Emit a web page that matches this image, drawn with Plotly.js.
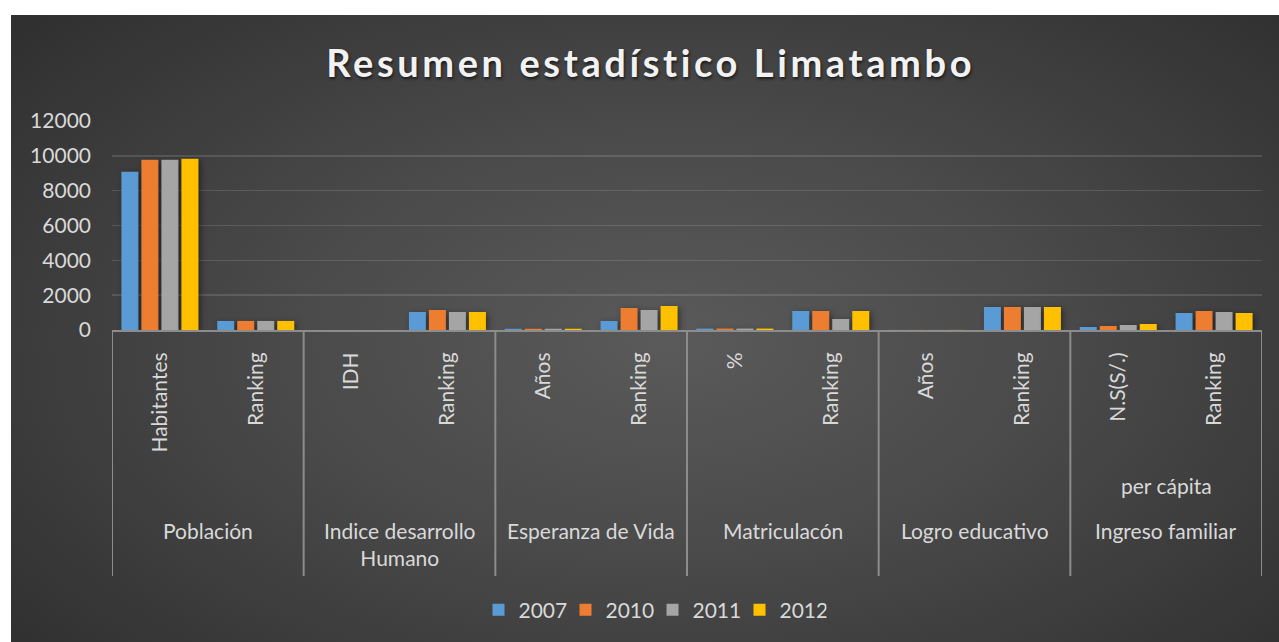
<!DOCTYPE html>
<html>
<head>
<meta charset="utf-8">
<script src="https://cdn.plot.ly/plotly-3.0.1.min.js"></script>
<style>
  html, body { margin: 0; padding: 0; background: #ffffff; width: 1279px; height: 642px; overflow: hidden; }
  #chart {
    position: absolute; left: 11px; top: 15px; width: 1268px; height: 627px;
    background: radial-gradient(ellipse 75% 85% at 52% 52%, #5a5a5a 0%, #4a4a4a 40%, #2b2b2b 100%);
  }
  #chart .gtitle { letter-spacing: 3.6px; text-shadow: 1px 2px 3px rgba(0,0,0,0.6); }
  #chart .trace.bars .point path { filter: drop-shadow(2px 2px 3px rgba(0,0,0,0.45)); }
</style>
</head>
<body>
<div id="chart"></div>
<script>
// ---- data ----
const groups = ["Población", "Indice desarrollo<br>Humano", "Esperanza de Vida", "Matriculacón", "Logro educativo", "Ingreso familiar"];
const groupExtra = ["", "", "", "", "", "per cápita"];
const subLabels = ["Habitantes", "Ranking", "IDH", "Ranking", "Años", "Ranking", "%", "Ranking", "Años", "Ranking", "N.S(S/.)", "Ranking"];
const years = ["2007", "2010", "2011", "2012"];
const v2007 = [9080, 520, 0.3, 1035, 70, 517, 80, 1092, 6, 1322, 172, 977];
const v2010 = [9770, 520, 0.3, 1150, 72, 1264, 82, 1092, 6, 1322, 230, 1092];
const v2011 = [9770, 520, 0.3, 1035, 72, 1150, 82, 632, 6, 1322, 287, 1035];
const v2012 = [9830, 520, 0.3, 1035, 72, 1380, 82, 1092, 6, 1322, 345, 977];
const yTicks = [0, 2000, 4000, 6000, 8000, 10000, 12000];

const seriesValues = [v2007, v2010, v2011, v2012];
const colors = ["#5b9bd5", "#ed7d31", "#a5a5a5", "#ffc000"];
const xIdx = subLabels.map((_, i) => i);

const FONT = "Lato, 'Noto Sans', sans-serif";
const TXT = "#d9d9d9";

const traces = years.map((yr, k) => ({
  type: "bar",
  name: yr,
  x: xIdx,
  y: seriesValues[k],
  marker: { color: colors[k] },
  hoverinfo: "skip"
}));

const shapes = [];
for (let g = 0; g <= groups.length; g++) {
  shapes.push({
    type: "line", xref: "x", yref: "paper",
    x0: 2 * g - 0.5, x1: 2 * g - 0.5, y0: 0, y1: -1.177,
    line: { color: "#8c8c8c", width: 2 }
  });
}

const annotations = [];
groups.forEach((g, i) => {
  annotations.push({
    xref: "x", yref: "paper", x: 2 * i + 0.5, y: 0,
    xanchor: "center", yanchor: "top", yshift: -186,
    text: g, showarrow: false,
    font: { family: FONT, size: 21, color: TXT }
  });
  if (groupExtra[i]) {
    annotations.push({
      xref: "x", yref: "paper", x: 2 * i + 0.5, y: 0,
      xanchor: "center", yanchor: "top", yshift: -141,
      text: groupExtra[i], showarrow: false,
      font: { family: FONT, size: 21, color: TXT }
    });
  }
});

const layout = {
  width: 1268, height: 627,
  paper_bgcolor: "rgba(0,0,0,0)",
  plot_bgcolor: "rgba(0,0,0,0)",
  margin: { l: 101, r: 17, t: 106, b: 312 },
  title: {
    text: "Resumen estadístico Limatambo",
    font: { family: FONT, size: 38, color: "#f2f2f2", weight: 700 },
    xref: "container", x: 0.5045, xanchor: "center",
    yref: "container", y: 0.922, yanchor: "middle"
  },
  barmode: "group",
  bargap: 0.165,
  bargroupgap: 0.15,
  xaxis: {
    range: [-0.5, 11.5],
    tickmode: "array", tickvals: xIdx, ticktext: subLabels,
    tickangle: -90, ticks: "",
    ticklabelstandoff: 12,
    tickfont: { family: FONT, size: 21, color: TXT },
    showgrid: false, zeroline: false,
    showline: true, linecolor: "#8c8c8c", linewidth: 2,
    fixedrange: true
  },
  yaxis: {
    range: [0, 12000],
    tickmode: "array", tickvals: yTicks, ticktext: yTicks.map(String),
    ticks: "", ticklabelstandoff: 20,
    tickfont: { family: FONT, size: 21, color: TXT },
    gridcolor: "rgba(217,217,217,0.16)", gridwidth: 1.5,
    zeroline: false, showline: false,
    fixedrange: true
  },
  showlegend: true,
  legend: {
    orientation: "h",
    xref: "container", x: 0.3687, xanchor: "left",
    yref: "container", y: 0.051, yanchor: "middle",
    entrywidth: 42, entrywidthmode: "pixels",
    font: { family: FONT, size: 21, color: TXT },
    bgcolor: "rgba(0,0,0,0)",
    itemclick: false, itemdoubleclick: false
  },
  shapes: shapes,
  annotations: annotations
};

Plotly.newPlot("chart", traces, layout, { displayModeBar: false, staticPlot: true });
</script>
</body>
</html>
